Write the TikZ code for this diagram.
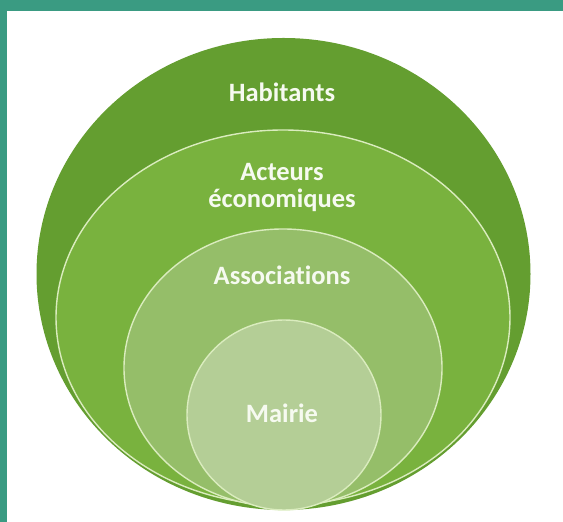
\documentclass[tikz,border=0pt]{standalone}
\usepackage{fontspec}
\setmainfont{Carlito}[Ligatures={NoCommon}]
\usetikzlibrary{shapes.geometric}
\definecolor{framecol}{RGB}{58,155,130}
\definecolor{gA}{RGB}{100,158,48}
\definecolor{gB}{RGB}{121,178,62}
\definecolor{gC}{RGB}{149,190,105}
\definecolor{gD}{RGB}{180,206,150}
\definecolor{rimcol}{RGB}{218,236,190}
\definecolor{txtcol}{RGB}{246,250,240}
\tikzset{
  ring/.style={ellipse, inner sep=0pt, outer sep=0pt},
  rim/.style={draw=rimcol, line width=1.4pt},
  lbl/.style={text=txtcol, font=\fontsize{26.5}{27}\selectfont\bfseries, inner sep=0pt, align=center}
}
\begin{document}
\begin{tikzpicture}[x=1pt,y=1pt]
\useasboundingbox (0,0) rectangle (563,522);
\fill[white] (0,0) rectangle (563,522);
\fill[framecol] (0,511) rectangle (563,522);
\fill[framecol] (0,0) rectangle (7,522);
% nested circles (bottom-aligned)
\node[ring, fill=gA, minimum width=494pt, minimum height=472pt] (habitants) at (283.5,248) {};
\node[ring, rim, fill=gB, minimum width=454pt, minimum height=375pt] (acteurs) at (283,204.5) {};
\node[ring, rim, fill=gC, minimum width=318pt, minimum height=278pt] (associations) at (283,154) {};
\node[ring, rim, fill=gD, minimum width=194pt, minimum height=190pt] (mairie) at (284,107) {};
% labels
\node[lbl, anchor=base] (thab) at (282,420) {Habitants};
\node[lbl, anchor=base] (tact) at (282,314) {Acteurs\\économiques};
\node[lbl, anchor=base] (tass) at (282,237) {Associations};
\node[lbl, anchor=base] (tmai) at (282,99) {Mairie};
\end{tikzpicture}
\end{document}
